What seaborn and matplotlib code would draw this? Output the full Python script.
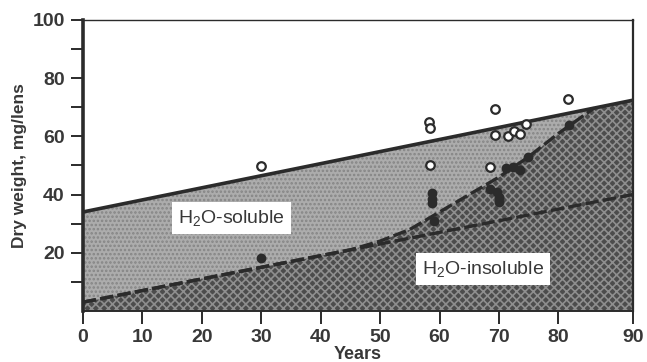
"""Dry weight of the human lens vs age: water-soluble and insoluble fractions."""

import matplotlib
matplotlib.use("Agg")
import matplotlib.pyplot as plt
import seaborn as sns
import numpy as np
import pandas as pd

# axis end as printed (the "90" label sits at the right border)
x_end = 92.5

# fitted total weight (solid line)
total_x = [0, x_end]
total_y = [34, 72.4]

# straight dashed line (insoluble, young lenses)
insol_x = [0, x_end]
insol_y = [3, 40]

# curved dashed line (insoluble, incl. old lenses)
curve_x = [0, 45, 50, 55, 60, 65, 70, 75, 80, 86]
curve_y = [3, 21, 24, 28, 34, 40, 46, 53, 61, 69.7]

# open circles: total dry weight
open_age = [30, 58.2, 58.4, 58.4, 68.5, 69.4, 69.4, 71.5, 72.5, 73.5, 74.5, 81.6]
open_wt = [49.7, 64.8, 63, 50.3, 49.4, 69.4, 60.3, 60, 61.8, 60.9, 64.1, 72.9]

# filled circles: insoluble dry weight
fill_age = [30, 58.8, 58.8, 58.8, 59, 68.5, 69.6, 70, 70, 71.2, 72.4, 73.6, 74.8, 81.8]
fill_wt = [18.2, 40.5, 38.5, 37, 31, 42, 40.8, 39, 37.5, 49, 49.4, 48.3, 53, 64]

x_ticks = [0, 10, 20, 30, 40, 50, 60, 70, 80, x_end]
x_labels = ["0", "10", "20", "30", "40", "50", "60", "70", "80", "90"]

sns.set_style("ticks")
plt.rcParams["font.family"] = ["Liberation Sans", "DejaVu Sans"]
plt.rcParams["mathtext.fontset"] = "custom"
plt.rcParams["mathtext.rm"] = "Liberation Sans"
plt.rcParams["mathtext.it"] = "Liberation Sans:italic"
plt.rcParams["mathtext.bf"] = "Liberation Sans:bold"
plt.rcParams["hatch.linewidth"] = 1.2

ink = "#2b2b2b"
grey_txt = "#383838"
fig = plt.figure(figsize=(6.47, 3.62), dpi=100)
ax = fig.add_axes([0.128, 0.141, 0.850, 0.804])

# shaded regions
xx = np.linspace(0, x_end, 400)
top = np.interp(xx, total_x, total_y)
cur = np.minimum(np.interp(xx, curve_x, curve_y, right=np.nan), top)
cur = np.where(np.isnan(cur), top, cur)
ax.fill_between(xx, cur, top, facecolor="#acacac", edgecolor="#858585",
                hatch="....", linewidth=0, zorder=1)
ax.fill_between(xx, 0, cur, facecolor="#4c4c4c", edgecolor="#8e8e8e",
                hatch="xxxx", linewidth=0, zorder=1)

lines = pd.DataFrame({"x": total_x, "y": total_y})
sns.lineplot(data=lines, x="x", y="y", ax=ax, color=ink, lw=2.6, zorder=3)
dl = pd.DataFrame({"x": insol_x, "y": insol_y})
sns.lineplot(data=dl, x="x", y="y", ax=ax, color=ink, lw=2.4,
             zorder=3).lines[-1].set_dashes((4, 1.3))
dc = pd.DataFrame({"x": curve_x, "y": curve_y})
sns.lineplot(data=dc, x="x", y="y", ax=ax, color=ink, lw=2.4, sort=False,
             zorder=3).lines[-1].set_dashes((4, 1.3))

sns.scatterplot(x=open_age, y=open_wt, ax=ax, s=38, facecolor="white",
                edgecolor=ink, linewidth=1.6, zorder=4)
sns.scatterplot(x=fill_age, y=fill_wt, ax=ax, s=50, color=ink,
                edgecolor=ink, linewidth=0, zorder=4)

box = dict(boxstyle="square,pad=0.3", facecolor="white", edgecolor="none")
ax.text(25, 32, r"H$_2$O-soluble", ha="center", va="center", fontsize=14,
        color=grey_txt, bbox=box, zorder=5)
ax.text(67.3, 14.5, r"H$_2$O-insoluble", ha="center", va="center", fontsize=14,
        color=grey_txt, bbox=box, zorder=5)

ax.set_xlim(0, x_end)
ax.set_ylim(0, 100)
ax.set_xticks(x_ticks)
ax.set_xticklabels(x_labels)
ax.set_yticks(range(10, 101, 10))
ax.set_yticklabels(["" if v % 20 else str(v) for v in range(10, 101, 10)])
ax.tick_params(axis="both", colors=ink, labelsize=14, width=1.4, length=9,
               direction="out", pad=4)
for lab in ax.get_xticklabels() + ax.get_yticklabels():
    lab.set_fontweight("bold")
    lab.set_color(grey_txt)

ax.set_xlabel("Years", fontsize=13, color=grey_txt, fontweight="bold",
              labelpad=0)
ax.set_ylabel("Dry weight, mg/lens", fontsize=12.5, color=grey_txt,
              fontweight="bold", labelpad=4)

ax.spines["left"].set_linewidth(2.6)
ax.spines["top"].set_linewidth(1.0)
ax.spines["right"].set_linewidth(1.6)
ax.spines["bottom"].set_linewidth(1.4)
for s in ax.spines.values():
    s.set_color(ink)
    s.set_zorder(6)

fig.savefig("out.png", dpi=100)
